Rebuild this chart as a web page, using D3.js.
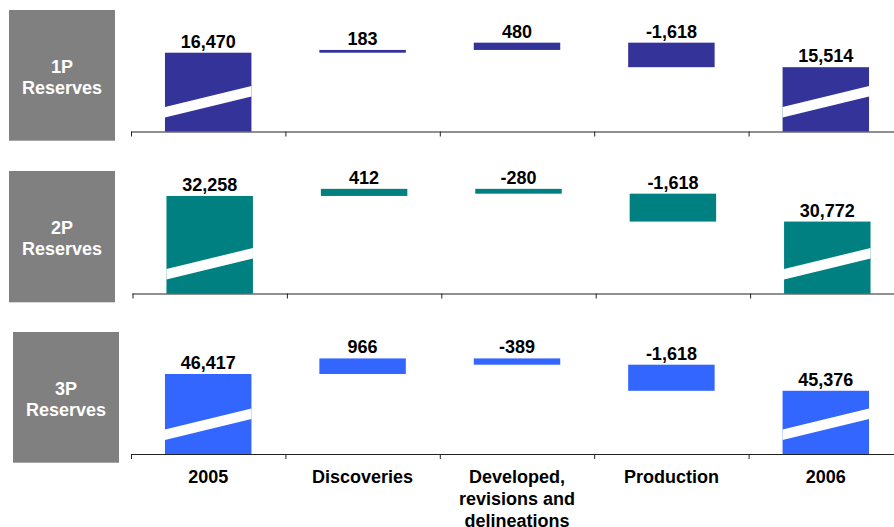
<!DOCTYPE html>
<html>
<head>
<meta charset="utf-8">
<script src="https://cdn.jsdelivr.net/npm/d3@7"></script>
<style>
  html, body { margin: 0; padding: 0; background: #ffffff; }
  svg { display: block; }
  text { font-family: "Liberation Sans", Arial, Helvetica, sans-serif; font-weight: bold; }
</style>
</head>
<body>
<svg id="chart" width="894" height="527"></svg>
<script>
// Reserve movements (MMboe) by category, 2005 to 2006
const categories = ["2005", "Discoveries", "Developed, revisions and delineations", "Production", "2006"];
const categoryLines = [["2005"], ["Discoveries"], ["Developed,", "revisions and", "delineations"], ["Production"], ["2006"]];
const seriesNames = ["1P", "2P", "3P"];
const reserves1P = [16470, 183, 480, -1618, 15514];
const reserves2P = [32258, 412, -280, -1618, 30772];
const reserves3P = [46417, 966, -389, -1618, 45376];
const seriesColors = ["#333399", "#008080", "#3366FF"];

// Panel layout: each panel uses a broken value axis starting at `floor`
const panels = [
  { name: seriesNames[0], values: reserves1P, color: seriesColors[0], top: 10, base: 131.5, floor: 11270, upp: 66, boxX: 9, boxBottom: 140.7, dx: 0 },
  { name: seriesNames[1], values: reserves2P, color: seriesColors[1], top: 171, base: 293.5, floor: 26600, upp: 58, boxX: 9, boxBottom: 302.3, dx: 1.5 },
  { name: seriesNames[2], values: reserves3P, color: seriesColors[2], top: 332, base: 454, floor: 41457, upp: 62, boxX: 13, boxBottom: 462.7, dx: 0 }
];

const svg = d3.select("#chart");
const W = 894;
const fmtBase = d3.format(",");
const fmt = n => fmtBase(n).replace("\u2212", "-");

const x = d3.scaleBand().domain(categories).range([131, 131 + 5 * 154.4]).padding(0);
const barW = x.bandwidth() * 0.56;

panels.forEach(p => {
  const g = svg.append("g").attr("transform", `translate(${p.dx},0)`);

  // grey series label box
  const boxW = 106;
  const boxH = p.boxBottom - p.top;
  const bx = p.boxX - p.dx;
  g.append("rect").attr("x", bx).attr("y", p.top).attr("width", boxW).attr("height", boxH).attr("fill", "#808080");
  const cy = p.top + boxH / 2;
  g.append("text").attr("x", bx + boxW / 2).attr("y", cy - 2.8).attr("text-anchor", "middle")
    .attr("fill", "#ffffff").attr("font-size", 18).text(p.name);
  g.append("text").attr("x", bx + boxW / 2).attr("y", cy + 18.3).attr("text-anchor", "middle")
    .attr("fill", "#ffffff").attr("font-size", 18).text("Reserves");

  // value scale with broken origin
  const y = d3.scaleLinear()
    .domain([p.floor, p.floor + (p.base - p.top) * p.upp])
    .range([p.base, p.top]);

  // waterfall segments
  const v = p.values;
  const segs = [];
  let run = v[0];
  segs.push({ cat: categories[0], lo: p.floor, hi: v[0], label: v[0], total: true });
  for (let i = 1; i < v.length - 1; i++) {
    const start = run;
    run += v[i];
    segs.push({ cat: categories[i], lo: Math.min(start, run), hi: Math.max(start, run), label: v[i], total: false });
  }
  segs.push({ cat: categories[4], lo: p.floor, hi: v[4], label: v[4], total: true });

  g.selectAll("rect.bar").data(segs).join("rect")
    .attr("class", "bar")
    .attr("x", d => x(d.cat) + (x.bandwidth() - barW) / 2)
    .attr("width", barW)
    .attr("y", d => y(d.hi))
    .attr("height", d => y(d.lo) - y(d.hi))
    .attr("fill", p.color);

  // axis-break stripe on the total bars
  g.selectAll("path.brk").data(segs.filter(d => d.total)).join("path")
    .attr("class", "brk")
    .attr("fill", "#ffffff")
    .attr("d", d => {
      const x0 = x(d.cat) + (x.bandwidth() - barW) / 2;
      const x1 = x0 + barW;
      return `M${x0},${p.base - 14}L${x1},${p.base - 35}L${x1},${p.base - 45.5}L${x0},${p.base - 24.5}Z`;
    });

  // value labels
  g.selectAll("text.val").data(segs).join("text")
    .attr("class", "val")
    .attr("x", d => x(d.cat) + x.bandwidth() / 2)
    .attr("y", d => y(d.hi) - 5)
    .attr("text-anchor", "middle")
    .attr("font-size", 18)
    .attr("fill", "#000000")
    .text(d => fmt(d.label));

  // category axis
  const axis = d3.axisBottom(x).tickSize(5).tickFormat("");
  const ag = g.append("g").attr("transform", `translate(0,${p.base})`).call(axis);
  ag.select(".domain").remove();
  ag.selectAll(".tick").attr("transform", d => `translate(${x(d) + 0.5},0)`);
  ag.selectAll(".tick line").attr("stroke", "#222");
  ag.append("line").attr("x1", x.range()[0]).attr("x2", W).attr("y1", 0.5).attr("y2", 0.5)
    .attr("stroke", "#222").attr("stroke-width", 1.2);

  if (p === panels[2]) {
    const lab = g.append("g");
    categories.forEach((c, i) => {
      const t = lab.append("text")
        .attr("x", x(c) + x.bandwidth() / 2)
        .attr("y", 483)
        .attr("text-anchor", "middle")
        .attr("font-size", 18)
        .attr("fill", "#000000");
      categoryLines[i].forEach((ln, j) => {
        t.append("tspan").attr("x", x(c) + x.bandwidth() / 2).attr("dy", j === 0 ? 0 : 22).text(ln);
      });
    });
  }
});
</script>
</body>
</html>
